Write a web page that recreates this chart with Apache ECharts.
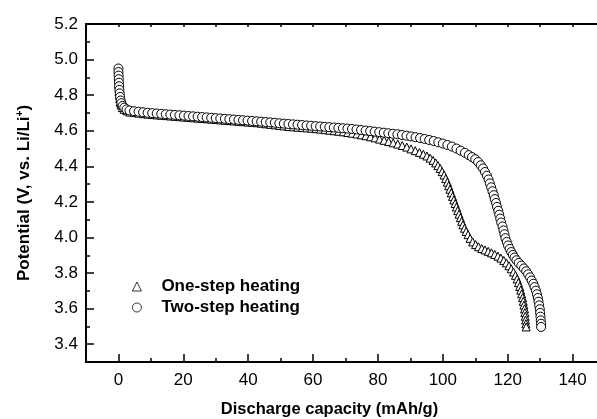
<!DOCTYPE html>
<html>
<head>
<meta charset="utf-8">
<script src="https://cdn.jsdelivr.net/npm/echarts@6/dist/echarts.min.js"></script>
<style>
  html, body { margin: 0; padding: 0; background: #fff; }
  #container { width: 597px; height: 419px; }
</style>
</head>
<body>
<div id="container"></div>
<script>
var xTicks = [0, 20, 40, 60, 80, 100, 120, 140];
var yTicks = [3.4, 3.6, 3.8, 4.0, 4.2, 4.4, 4.6, 4.8, 5.0, 5.2];
var seriesNames = ['One-step heating', 'Two-step heating'];

// [capacity mAh/g, potential V]
var oneStep = [
  [0.1, 4.86], [0.15, 4.84], [0.2, 4.82], [0.3, 4.80], [0.4, 4.78], [0.55, 4.76], [0.8, 4.745],
  [1.2, 4.73], [1.8, 4.72], [2.6, 4.712], [3.5, 4.705],
  [4.9, 4.702], [6.3, 4.699], [7.7, 4.696], [9.1, 4.693], [10.5, 4.691], [11.9, 4.689],
  [13.3, 4.687], [14.7, 4.685], [16.1, 4.683], [17.5, 4.681], [18.9, 4.679], [20.3, 4.677],
  [21.7, 4.675], [23.1, 4.673], [24.5, 4.671], [25.9, 4.669], [27.3, 4.667], [28.7, 4.665],
  [30.1, 4.663], [31.5, 4.661], [32.9, 4.659], [34.3, 4.657], [35.7, 4.655], [37.1, 4.653],
  [38.5, 4.651], [39.9, 4.649], [41.3, 4.647], [42.7, 4.645], [44.1, 4.642], [45.5, 4.639],
  [46.9, 4.636], [48.3, 4.633], [49.7, 4.630], [51.1, 4.627], [52.5, 4.624], [53.9, 4.622],
  [55.3, 4.620], [56.7, 4.618], [58.1, 4.616], [59.5, 4.614], [60.9, 4.612], [62.3, 4.609],
  [63.7, 4.606], [65.1, 4.603], [66.5, 4.600], [67.9, 4.597], [69.3, 4.594], [70.7, 4.590],
  [72.1, 4.586], [73.5, 4.582], [74.9, 4.577], [76.3, 4.572], [77.7, 4.566], [79.1, 4.560],
  [80.5, 4.553], [81.9, 4.546], [83.3, 4.539], [84.7, 4.532], [86.1, 4.525], [87.5, 4.517],
  [88.9, 4.508], [90.2, 4.498], [91.5, 4.488], [92.8, 4.478], [94.0, 4.468], [95.1, 4.458],
  [96.1, 4.446], [97.0, 4.433], [97.8, 4.419], [98.5, 4.404], [99.2, 4.388], [99.8, 4.370],
  [100.4, 4.351], [100.9, 4.331], [101.4, 4.311], [101.8, 4.291], [102.2, 4.271], [102.6, 4.251],
  [103.0, 4.231], [103.4, 4.211], [103.8, 4.191], [104.2, 4.171], [104.6, 4.151], [105.0, 4.131],
  [105.4, 4.111], [105.8, 4.091], [106.2, 4.071], [106.7, 4.052], [107.2, 4.034], [107.8, 4.016],
  [108.4, 3.995], [109.2, 3.975], [110.1, 3.960], [111.0, 3.948], [112.0, 3.938], [113.0, 3.930],
  [114.0, 3.922], [115.0, 3.914], [116.0, 3.905], [117.0, 3.895], [117.9, 3.884], [118.8, 3.871],
  [119.6, 3.857], [120.4, 3.841], [121.1, 3.824], [121.8, 3.806], [122.4, 3.787], [122.9, 3.767],
  [123.3, 3.746], [123.7, 3.725], [124.0, 3.704], [124.3, 3.683], [124.6, 3.662], [124.8, 3.641],
  [125.0, 3.620], [125.2, 3.599], [125.3, 3.578], [125.4, 3.557], [125.5, 3.536], [125.6, 3.515],
  [125.7, 3.497]
];

var twoStep = [
  [0.0, 4.95], [0.0, 4.93], [0.05, 4.91], [0.1, 4.89], [0.15, 4.87], [0.2, 4.85], [0.3, 4.83],
  [0.4, 4.81], [0.5, 4.79], [0.7, 4.77], [0.9, 4.755], [1.3, 4.74], [1.8, 4.73], [2.5, 4.72],
  [3.4, 4.714],
  [4.8, 4.710], [6.2, 4.707], [7.6, 4.704], [9.0, 4.701], [10.4, 4.699], [11.8, 4.697],
  [13.2, 4.695], [14.6, 4.693], [16.0, 4.691], [17.4, 4.689], [18.8, 4.687], [20.2, 4.685],
  [21.6, 4.683], [23.0, 4.681], [24.4, 4.679], [25.8, 4.677], [27.2, 4.675], [28.6, 4.673],
  [30.0, 4.671], [31.4, 4.669], [32.8, 4.667], [34.2, 4.665], [35.6, 4.663], [37.0, 4.661],
  [38.4, 4.659], [39.8, 4.657], [41.2, 4.655], [42.6, 4.653], [44.0, 4.651], [45.4, 4.649],
  [46.8, 4.647], [48.2, 4.645], [49.6, 4.642], [51.0, 4.640], [52.4, 4.638], [53.8, 4.636],
  [55.2, 4.634], [56.6, 4.632], [58.0, 4.630], [59.4, 4.628], [60.8, 4.626], [62.2, 4.624],
  [63.6, 4.622], [65.0, 4.620], [66.4, 4.618], [67.8, 4.616], [69.2, 4.614], [70.6, 4.612],
  [72.0, 4.610], [73.4, 4.607], [74.8, 4.604], [76.2, 4.601], [77.6, 4.598], [79.0, 4.595],
  [80.4, 4.592], [81.8, 4.589], [83.2, 4.586], [84.6, 4.583], [86.0, 4.580], [87.4, 4.576],
  [88.8, 4.572], [90.2, 4.568], [91.6, 4.564], [93.0, 4.559], [94.4, 4.554], [95.8, 4.548],
  [97.2, 4.542], [98.6, 4.535], [100.0, 4.528], [101.4, 4.520], [102.8, 4.511], [104.2, 4.500],
  [105.5, 4.488], [106.8, 4.476], [108.0, 4.463], [109.0, 4.452], [110.0, 4.440], [110.9, 4.424],
  [111.7, 4.406], [112.4, 4.388], [113.0, 4.368], [113.6, 4.347], [114.1, 4.326], [114.5, 4.304],
  [114.9, 4.282], [115.3, 4.260], [115.7, 4.238], [116.0, 4.216], [116.4, 4.194], [116.7, 4.172],
  [117.1, 4.150], [117.4, 4.128], [117.7, 4.106], [118.0, 4.084], [118.4, 4.062], [118.7, 4.040],
  [119.0, 4.018], [119.3, 3.996], [119.7, 3.975], [120.1, 3.955], [120.6, 3.936], [121.1, 3.918],
  [121.6, 3.902], [122.1, 3.887], [122.7, 3.872], [123.4, 3.857], [124.2, 3.842], [125.0, 3.826],
  [125.7, 3.810], [126.3, 3.793], [126.9, 3.776], [127.4, 3.758], [127.9, 3.740], [128.3, 3.721],
  [128.7, 3.701], [129.0, 3.681], [129.3, 3.660], [129.5, 3.639], [129.7, 3.618], [129.9, 3.597],
  [130.0, 3.576], [130.1, 3.555], [130.2, 3.534], [130.3, 3.515], [130.3, 3.497]
];

var font = 'Liberation Sans, Arial, sans-serif';
var dom = document.getElementById('container');
var myChart = echarts.init(dom, null, { renderer: 'canvas' });

var option = {
  animation: false,
  backgroundColor: '#fff',
  grid: { left: 86, right: -8, top: 24, bottom: 57, containLabel: false, outerBoundsMode: 'none' },
  legend: {
    orient: 'vertical',
    left: 132,
    top: 278,
    padding: 0,
    itemWidth: 9,
    itemHeight: 9,
    itemGap: 4,
    itemStyle: { color: '#fff', borderColor: '#000', borderWidth: 0.8 },
    textStyle: { fontFamily: font, fontSize: 17, fontWeight: 'bold', color: '#000', padding: [0, 0, 0, 15] },
    data: [
      { name: seriesNames[0], icon: 'triangle' },
      { name: seriesNames[1], icon: 'circle' }
    ]
  },
  xAxis: [
    {
      type: 'value', position: 'bottom', min: -10, max: 150,
      name: 'Discharge capacity (mAh/g)', nameLocation: 'middle', nameGap: 39,
      nameTextStyle: { fontFamily: font, fontSize: 16.5, fontWeight: 'bold', color: '#000', padding: [0, 32, 0, 0] },
      axisLine: { onZero: false, lineStyle: { color: '#000', width: 2 } },
      axisTick: { inside: true, length: 8, customValues: xTicks, lineStyle: { color: '#000', width: 1.5 } },
      axisLabel: { customValues: xTicks, fontFamily: font, fontSize: 17, color: '#000', margin: 10 },
      splitLine: { show: false }
    },
    {
      type: 'value', position: 'bottom', min: -10, max: 150, interval: 10,
      axisLine: { show: false, onZero: false },
      axisTick: { inside: true, length: 4, lineStyle: { color: '#000', width: 1.5 } },
      axisLabel: { show: false },
      splitLine: { show: false }
    },
    {
      type: 'value', position: 'top', min: -10, max: 150, interval: 10,
      axisLine: { onZero: false, lineStyle: { color: '#000', width: 2 } },
      axisTick: { inside: true, length: 3, lineStyle: { color: '#000', width: 1.5 } },
      axisLabel: { show: false },
      splitLine: { show: false }
    }
  ],
  yAxis: [
    {
      type: 'value', position: 'left', min: 3.3, max: 5.2,
      name: 'Potential (V, vs. Li/Li{sup|+})', nameLocation: 'middle', nameGap: 52,
      nameTextStyle: {
        fontFamily: font, fontSize: 17, fontWeight: 'bold', color: '#000',
        rich: { sup: { fontFamily: font, fontSize: 10, fontWeight: 'bold', color: '#000', verticalAlign: 'top', padding: [0, 0, 9, 0] } }
      },
      axisLine: { onZero: false, lineStyle: { color: '#000', width: 2 } },
      axisTick: { inside: true, length: 8, customValues: yTicks, lineStyle: { color: '#000', width: 1.5 } },
      axisLabel: {
        customValues: yTicks, fontFamily: font, fontSize: 17, color: '#000', margin: 8,
        formatter: function (v) { return v.toFixed(1); }
      },
      splitLine: { show: false }
    },
    {
      type: 'value', position: 'left', min: 3.3, max: 5.2, interval: 0.1,
      axisLine: { show: false, onZero: false },
      axisTick: { inside: true, length: 4, lineStyle: { color: '#000', width: 1.5 } },
      axisLabel: { show: false },
      splitLine: { show: false }
    }
  ],
  series: [
    {
      name: seriesNames[0], type: 'scatter', xAxisIndex: 0, yAxisIndex: 0,
      symbol: 'triangle', symbolSize: 8,
      itemStyle: { color: '#fff', borderColor: '#000', borderWidth: 1, opacity: 1 },
      data: oneStep
    },
    {
      name: seriesNames[1], type: 'scatter', xAxisIndex: 0, yAxisIndex: 0,
      symbol: 'circle', symbolSize: 9,
      itemStyle: { color: '#fff', borderColor: '#000', borderWidth: 1, opacity: 1 },
      data: twoStep
    }
  ]
};

myChart.setOption(option);
window.addEventListener('resize', myChart.resize);
</script>
</body>
</html>
